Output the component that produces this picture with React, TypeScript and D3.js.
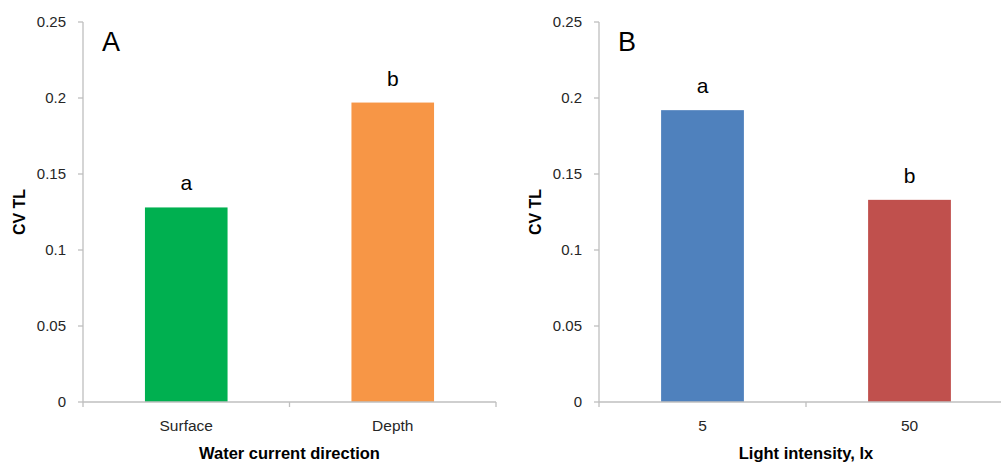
import React, { useEffect, useRef } from "react";
import * as d3 from "d3";

const waterCategories = ["Surface", "Depth"];
const waterValues = [0.128, 0.197];
const waterLetters = ["a", "b"];
const waterColors = ["#00b050", "#f79646"];

const lightCategories = ["5", "50"];
const lightValues = [0.192, 0.133];
const lightLetters = ["a", "b"];
const lightColors = ["#4f81bd", "#c0504d"];

const yTicks = [0, 0.05, 0.1, 0.15, 0.2, 0.25];

const FONT = "'Liberation Sans', Arial, sans-serif";
const AXIS = "#bfbfbf";

const drawPanel = (svg, opts) => {
  const { left, right, top, bottom, cats, values, letters, colors, panel, xTitle } = opts;
  const g = svg.append("g");

  const y = d3.scaleLinear().domain([0, 0.25]).range([bottom, top]);
  const x = d3.scaleBand().domain(cats).range([left, right]).paddingInner(0.6).paddingOuter(0.3);

  // y axis
  g.append("line")
    .attr("x1", left).attr("x2", left).attr("y1", top).attr("y2", bottom)
    .attr("stroke", AXIS).attr("stroke-width", 1.3);
  yTicks.forEach((t) => {
    g.append("line")
      .attr("x1", left - 5).attr("x2", left).attr("y1", y(t)).attr("y2", y(t))
      .attr("stroke", AXIS).attr("stroke-width", 1.3);
    g.append("text")
      .attr("x", left - 17).attr("y", y(t) + 5)
      .attr("text-anchor", "end").attr("font-size", 15).attr("fill", "#262626")
      .attr("font-family", FONT)
      .text(d3.format("")(t));
  });

  // bars
  cats.forEach((c, i) => {
    g.append("rect")
      .attr("x", x(c)).attr("width", x.bandwidth())
      .attr("y", y(values[i])).attr("height", bottom - y(values[i]))
      .attr("fill", colors[i]);
    g.append("text")
      .attr("x", x(c) + x.bandwidth() / 2).attr("y", y(values[i]) - 17)
      .attr("text-anchor", "middle").attr("font-size", 21).attr("fill", "#000")
      .attr("font-family", FONT)
      .text(letters[i]);
    g.append("text")
      .attr("x", x(c) + x.bandwidth() / 2).attr("y", bottom + 29)
      .attr("text-anchor", "middle").attr("font-size", 15.5).attr("fill", "#262626")
      .attr("font-family", FONT)
      .text(c);
  });

  // x axis
  g.append("line")
    .attr("x1", left).attr("x2", right).attr("y1", bottom).attr("y2", bottom)
    .attr("stroke", AXIS).attr("stroke-width", 1.3);
  const step = (right - left) / cats.length;
  d3.range(cats.length + 1).forEach((i) => {
    g.append("line")
      .attr("x1", left + i * step).attr("x2", left + i * step)
      .attr("y1", bottom).attr("y2", bottom + 5)
      .attr("stroke", AXIS).attr("stroke-width", 1.3);
  });

  g.append("text")
    .attr("x", (left + right) / 2).attr("y", bottom + 57)
    .attr("text-anchor", "middle").attr("font-size", 16.5).attr("font-weight", "bold")
    .attr("font-family", FONT)
    .text(xTitle);

  g.append("text")
    .attr("transform", `translate(${left - 58},${(top + bottom) / 2}) rotate(-90)`)
    .attr("text-anchor", "middle").attr("font-size", 16).attr("font-weight", "bold")
    .attr("font-family", FONT)
    .text("CV TL");

  g.append("text")
    .attr("x", left + 19).attr("y", top + 29)
    .attr("font-size", 27).attr("font-family", FONT)
    .text(panel);
};

const App = () => {
  const svgRef = useRef(null);

  useEffect(() => {
    const svg = d3.select(svgRef.current);
    svg.selectAll("*").remove();
    drawPanel(svg, {
      left: 83, right: 496, top: 22, bottom: 402,
      cats: waterCategories, values: waterValues, letters: waterLetters, colors: waterColors,
      panel: "A", xTitle: "Water current direction",
    });
    drawPanel(svg, {
      left: 599, right: 1013, top: 22, bottom: 402,
      cats: lightCategories, values: lightValues, letters: lightLetters, colors: lightColors,
      panel: "B", xTitle: "Light intensity, lx",
    });
  }, []);

  return (
    <svg
      ref={svgRef}
      width={1001}
      height={465}
      style={{ position: "absolute", left: 0, top: 0, background: "#fff" }}
    />
  );
};

export default App;
